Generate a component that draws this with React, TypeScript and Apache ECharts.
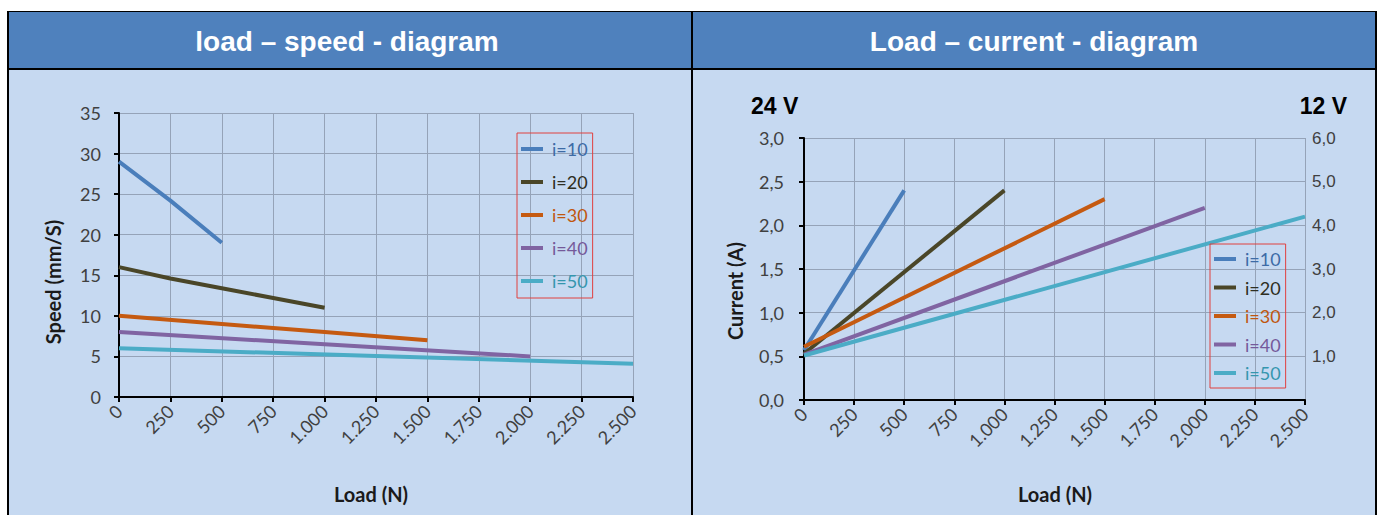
import React, { useEffect, useRef } from "react";
import * as echarts from "echarts";

// ---- data ----
const seriesNames = ["i=10", "i=20", "i=30", "i=40", "i=50"];
const lineColors = ["#4A7EBB", "#4A4628", "#C55A11", "#8064A2", "#4BACC6"];
const legendTextColors = ["#3D6BA6", "#2E2E22", "#C0560F", "#75599A", "#3596AE"];

// load – speed
const speedLoad10 = [0, 250, 500];
const speed10 = [29, 24.2, 19];
const speedLoad20 = [0, 250, 500, 750, 1000];
const speed20 = [16, 14.6, 13.4, 12.2, 11];
const speedLoad30 = [0, 500, 1000, 1500];
const speed30 = [10, 9, 8, 7];
const speedLoad40 = [0, 1000, 2000];
const speed40 = [8, 6.5, 5];
const speedLoad50 = [0, 1250, 2500];
const speed50 = [6, 5.05, 4.1];

// load – current (24 V axis)
const currentLoad10 = [0, 500];
const current10 = [0.57, 2.4];
const currentLoad20 = [0, 1000];
const current20 = [0.53, 2.4];
const currentLoad30 = [0, 1500];
const current30 = [0.61, 2.3];
const currentLoad40 = [0, 2000];
const current40 = [0.52, 2.2];
const currentLoad50 = [0, 2500];
const current50 = [0.51, 2.1];

const speedLoads = [speedLoad10, speedLoad20, speedLoad30, speedLoad40, speedLoad50];
const speeds = [speed10, speed20, speed30, speed40, speed50];
const currentLoads = [currentLoad10, currentLoad20, currentLoad30, currentLoad40, currentLoad50];
const currents = [current10, current20, current30, current40, current50];

const titleLeft = "load – speed - diagram";
const titleRight = "Load – current - diagram";
const speedAxisName = "Speed (mm/S)";
const currentAxisName = "Current (A)";
const loadAxisName = "Load (N)";
const voltLeft = "24 V";
const voltRight = "12 V";

const zip = (xs: number[], ys: number[]) => xs.map((x, i) => [x, ys[i]]);
const fmtLoad = (v: number) =>
  v >= 1000 ? `${Math.floor(v / 1000)}.${String(v % 1000).padStart(3, "0")}` : String(v);
const fmtComma = (v: number) => v.toFixed(1).replace(".", ",");

const FONT = "Lato, 'Open Sans', sans-serif";
const ARIAL = "'Liberation Sans', Arial, sans-serif";
const HEADER = "#4F81BD";
const BODY = "#C6D9F1";
const GRIDLINE = "#95A3B8";
const LABEL = "#404040";

export default function App() {
  const ref = useRef<HTMLDivElement>(null);
  useEffect(() => {
    if (!ref.current) return;
    const chart = echarts.init(ref.current, null, { renderer: "svg" });

    const xAxisBase = {
      type: "value",
      min: 0,
      max: 2500,
      interval: 250,
      axisLine: { show: true, lineStyle: { color: "#000", width: 2 } },
      axisTick: { show: true, length: 5, lineStyle: { color: "#000", width: 2 } },
      splitLine: { show: true, lineStyle: { color: GRIDLINE, width: 1 } },
      axisLabel: {
        rotate: 45,
        margin: 11,
        fontFamily: FONT,
        fontSize: 18,
        color: LABEL,
        formatter: fmtLoad,
      },
    };

    const legendBase = {
      orient: "vertical",
      icon: "rect",
      itemWidth: 22,
      itemHeight: 4,
      selectedMode: false,
      borderColor: "#E0413F",
      borderWidth: 1,
      textStyle: { fontFamily: FONT, fontSize: 18, lineHeight: 20, padding: [0, 0, 0, 4] },
      data: seriesNames.map((n, i) => ({ name: n, textStyle: { color: legendTextColors[i] } })),
    };

    const speedSeries = seriesNames.map((n, i) => ({
      name: n,
      type: "line",
      xAxisIndex: 0,
      yAxisIndex: 0,
      data: zip(speedLoads[i], speeds[i]),
      symbol: "none",
      lineStyle: { width: 4, color: lineColors[i] },
      itemStyle: { color: lineColors[i] },
    }));
    const currentSeries = seriesNames.map((n, i) => ({
      name: n,
      type: "line",
      xAxisIndex: 1,
      yAxisIndex: 1,
      data: zip(currentLoads[i], currents[i]),
      symbol: "none",
      lineStyle: { width: 4, color: lineColors[i] },
      itemStyle: { color: lineColors[i] },
    }));

    chart.setOption({
      animation: false,
      backgroundColor: "#ffffff",
      grid: [
        { left: 119, top: 113, width: 514, height: 284 },
        { left: 804, top: 138, width: 501, height: 262 },
      ],
      xAxis: [
        { ...xAxisBase, gridIndex: 0 },
        { ...xAxisBase, gridIndex: 1 },
      ],
      yAxis: [
        {
          type: "value",
          gridIndex: 0,
          min: 0,
          max: 35,
          interval: 5,
          axisLine: { show: true, lineStyle: { color: "#000", width: 2 } },
          axisTick: { show: true, length: 5, lineStyle: { color: "#000", width: 2 } },
          splitLine: { show: true, lineStyle: { color: GRIDLINE, width: 1 } },
          axisLabel: { margin: 18, fontFamily: FONT, fontSize: 18, color: LABEL },
        },
        {
          type: "value",
          gridIndex: 1,
          min: 0,
          max: 3,
          interval: 0.5,
          axisLine: { show: true, lineStyle: { color: "#000", width: 2 } },
          axisTick: { show: true, length: 5, lineStyle: { color: "#000", width: 2 } },
          splitLine: { show: true, lineStyle: { color: GRIDLINE, width: 1 } },
          axisLabel: { margin: 20, fontFamily: FONT, fontSize: 18, color: LABEL, formatter: fmtComma },
        },
        {
          type: "value",
          gridIndex: 1,
          position: "right",
          min: 0,
          max: 6,
          interval: 1,
          axisLine: { show: false },
          axisTick: { show: false },
          splitLine: { show: false },
          axisLabel: {
            margin: 7,
            fontFamily: ARIAL,
            fontSize: 17,
            color: LABEL,
            showMinLabel: false,
            formatter: (v: number) => (v === 0 ? "" : fmtComma(v)),
          },
        },
      ],
      legend: [
        { ...legendBase, left: 517, top: 133, itemGap: 13, padding: [6, 5, 7, 4] },
        { ...legendBase, left: 1210, top: 244, itemGap: 8.5, padding: [5, 5, 5, 4] },
      ],
      graphic: [
        // panel backgrounds
        { type: "rect", z: -10, shape: { x: 8, y: 12, width: 684, height: 57 }, style: { fill: HEADER } },
        { type: "rect", z: -10, shape: { x: 692, y: 12, width: 684, height: 57 }, style: { fill: HEADER } },
        { type: "rect", z: -10, shape: { x: 8, y: 69, width: 684, height: 446 }, style: { fill: BODY } },
        { type: "rect", z: -10, shape: { x: 692, y: 69, width: 684, height: 446 }, style: { fill: BODY } },
        // borders
        { type: "line", z: 10, shape: { x1: 7, y1: 11.5, x2: 1377, y2: 11.5 }, style: { stroke: "#000", lineWidth: 1 } },
        { type: "line", z: 10, shape: { x1: 7, y1: 69, x2: 1377, y2: 69 }, style: { stroke: "#000", lineWidth: 2 } },
        { type: "line", z: 10, shape: { x1: 8, y1: 11, x2: 8, y2: 515 }, style: { stroke: "#000", lineWidth: 2 } },
        { type: "line", z: 10, shape: { x1: 692, y1: 11, x2: 692, y2: 515 }, style: { stroke: "#000", lineWidth: 2 } },
        { type: "line", z: 10, shape: { x1: 1376, y1: 11, x2: 1376, y2: 515 }, style: { stroke: "#000", lineWidth: 2 } },
        // titles
        {
          type: "text",
          x: 347,
          y: 41,
          style: { text: titleLeft, fill: "#fff", fontFamily: ARIAL, fontWeight: "bold", fontSize: 28, align: "center", verticalAlign: "middle" },
        },
        {
          type: "text",
          x: 1034,
          y: 41,
          style: { text: titleRight, fill: "#fff", fontFamily: ARIAL, fontWeight: "bold", fontSize: 28, align: "center", verticalAlign: "middle" },
        },
        // axis names
        {
          type: "text",
          x: 53,
          y: 282,
          rotation: Math.PI / 2,
          style: { text: speedAxisName, fill: "#1a1a1a", fontFamily: FONT, fontWeight: "bold", fontSize: 20, align: "center", verticalAlign: "middle" },
        },
        {
          type: "text",
          x: 735,
          y: 291,
          rotation: Math.PI / 2,
          style: { text: currentAxisName, fill: "#1a1a1a", fontFamily: FONT, fontWeight: "bold", fontSize: 20, align: "center", verticalAlign: "middle" },
        },
        {
          type: "text",
          x: 371,
          y: 494,
          style: { text: loadAxisName, fill: "#1a1a1a", fontFamily: FONT, fontWeight: "bold", fontSize: 20, align: "center", verticalAlign: "middle" },
        },
        {
          type: "text",
          x: 1055,
          y: 494,
          style: { text: loadAxisName, fill: "#1a1a1a", fontFamily: FONT, fontWeight: "bold", fontSize: 20, align: "center", verticalAlign: "middle" },
        },
        // voltage labels
        {
          type: "text",
          x: 751,
          y: 106,
          style: { text: voltLeft, fill: "#000", fontFamily: ARIAL, fontWeight: "bold", fontSize: 23, align: "left", verticalAlign: "middle" },
        },
        {
          type: "text",
          x: 1347,
          y: 106,
          style: { text: voltRight, fill: "#000", fontFamily: ARIAL, fontWeight: "bold", fontSize: 23, align: "right", verticalAlign: "middle" },
        },
      ],
      series: [...speedSeries, ...currentSeries],
    });

    return () => chart.dispose();
  }, []);

  return (
    <div
      ref={ref}
      style={{ position: "fixed", left: 0, top: 0, width: 1383, height: 515 }}
    />
  );
}
